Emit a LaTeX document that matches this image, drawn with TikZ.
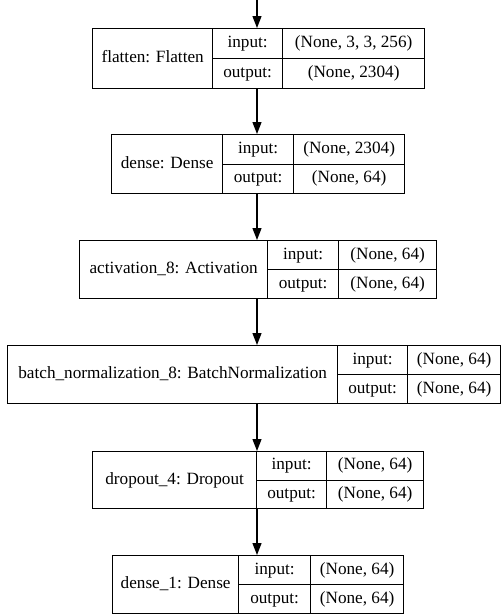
\documentclass[tikz,border=0pt]{standalone}
\usepackage{fontspec}
\setmainfont{Liberation Serif}
\usetikzlibrary{arrows.meta}
\tikzset{
  cellbox/.style={draw=black, line width=1.3pt, inner sep=0pt, anchor=north west,
    font=\fontsize{17.2}{18}\selectfont, text=black, text height=11.5pt, text depth=3.5pt},
  outerbox/.style={draw=black, line width=1.3pt, inner sep=0pt, anchor=north west},
  arr/.style={draw=black, line width=1.3pt, -{Triangle[length=12pt,width=9pt]}},
}
\newcommand\setgeom[6]{\def\gT{#1}\def\gB{#2}\def\gL{#3}\def\gA{#4}\def\gC{#5}\def\gR{#6}}
\newcommand\drawlayer[4]{%
  \pgfmathsetmacro\gM{(\gT+\gB)/2}%
  \node[outerbox, minimum width={(\gR-\gL)*1pt}, minimum height={(\gB-\gT)*1pt}] (#1) at (\gL,\gT) {};
  \node[cellbox, minimum width={(\gA-\gL)*1pt}, minimum height={(\gB-\gT)*1pt}] (#1-l) at (\gL,\gT) {#2};
  \node[cellbox, minimum width={(\gC-\gA)*1pt}, minimum height={(\gM-\gT)*1pt}] (#1-ik) at (\gA,\gT) {input:};
  \node[cellbox, minimum width={(\gC-\gA)*1pt}, minimum height={(\gB-\gM)*1pt}] (#1-ok) at (\gA,\gM) {output:};
  \node[cellbox, minimum width={(\gR-\gC)*1pt}, minimum height={(\gM-\gT)*1pt}] (#1-iv) at (\gC,\gT) {#3};
  \node[cellbox, minimum width={(\gR-\gC)*1pt}, minimum height={(\gB-\gM)*1pt}] (#1-ov) at (\gC,\gM) {#4};
}
\begin{document}
\begin{tikzpicture}[x=1pt, y=-1pt]
  \fill[white] (0,0) rectangle (502,614);
  \useasboundingbox (0,0) rectangle (502,614);
  \coordinate (axis) at (257,0);

  \setgeom{28}{88}{92}{212}{282}{424}
  \drawlayer{flatten}{flatten: Flatten}{(None, 3, 3, 256)}{(None, 2304)}

  \setgeom{134}{193}{111}{222}{293}{404}
  \drawlayer{dense}{dense: Dense}{(None, 2304)}{(None, 64)}

  \setgeom{240}{298}{79}{267}{338}{436}
  \drawlayer{act}{activation\_8: Activation}{(None, 64)}{(None, 64)}

  \setgeom{345}{403}{7}{337}{407}{500}
  \drawlayer{bn}{batch\_normalization\_8: BatchNormalization}{(None, 64)}{(None, 64)}

  \setgeom{451}{508}{92}{256}{326}{423}
  \drawlayer{drop}{dropout\_4: Dropout}{(None, 64)}{(None, 64)}

  \setgeom{555}{613}{112}{238}{310}{403}
  \drawlayer{dense1}{dense\_1: Dense}{(None, 64)}{(None, 64)}

  \draw[arr] (axis) -- (axis |- flatten.north);
  \draw[arr] (axis |- flatten.south) -- (axis |- dense.north);
  \draw[arr] (axis |- dense.south) -- (axis |- act.north);
  \draw[arr] (axis |- act.south) -- (axis |- bn.north);
  \draw[arr] (axis |- bn.south) -- (axis |- drop.north);
  \draw[arr] (axis |- drop.south) -- (axis |- dense1.north);
\end{tikzpicture}
\end{document}
